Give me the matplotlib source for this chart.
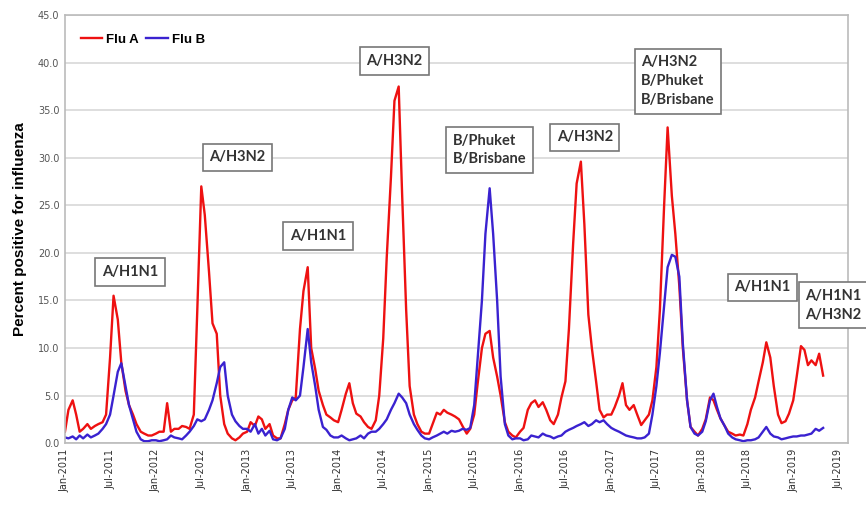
import matplotlib
matplotlib.use("Agg")
import matplotlib.pyplot as plt
import matplotlib.dates as mdates
import pandas as pd

# semi-monthly readings (1st and 15th), Jan 2011 .. May 2019
flu_a_2011 = [1.2, 3.5, 4.5, 3.0, 1.2, 1.5, 2.0, 1.5, 1.8, 2.0, 2.2, 3.0, 9.0, 15.5, 13.0, 8.5, 5.5, 4.0, 3.0, 2.0, 1.2, 1.0, 0.8, 0.8]
flu_a_2012 = [1.0, 1.2, 1.2, 4.2, 1.2, 1.5, 1.5, 1.8, 1.7, 1.5, 3.0, 14.0, 27.0, 24.0, 18.0, 12.6, 11.5, 5.0, 2.0, 1.0, 0.5, 0.3, 0.6, 1.0]
flu_a_2013 = [1.2, 2.2, 1.8, 2.8, 2.5, 1.5, 2.0, 0.8, 0.5, 0.5, 2.0, 3.5, 4.5, 4.8, 12.0, 16.0, 18.5, 10.0, 7.8, 5.5, 4.0, 3.0, 2.7, 2.4]
flu_a_2014 = [2.2, 3.5, 5.2, 6.3, 4.2, 3.1, 2.8, 2.2, 1.7, 1.5, 2.4, 5.0, 11.0, 19.5, 28.0, 36.0, 37.5, 26.0, 14.0, 6.0, 3.0, 2.0, 1.2, 1.0]
flu_a_2015 = [1.0, 2.0, 3.2, 3.0, 3.5, 3.2, 3.0, 2.8, 2.5, 1.8, 1.0, 1.5, 3.0, 6.3, 10.0, 11.5, 11.8, 9.0, 7.0, 5.0, 2.2, 1.2, 0.8, 0.6]
flu_a_2016 = [1.2, 1.6, 3.5, 4.2, 4.5, 3.8, 4.3, 3.5, 2.4, 2.0, 3.0, 4.8, 6.5, 12.0, 21.0, 27.3, 29.6, 23.0, 13.5, 10.0, 6.5, 3.5, 2.7, 3.0]
flu_a_2017 = [3.0, 3.8, 5.0, 6.3, 4.0, 3.5, 4.0, 3.0, 1.9, 2.4, 3.0, 4.5, 8.0, 14.0, 25.0, 33.2, 26.0, 22.0, 16.5, 10.0, 4.5, 1.7, 1.2, 0.8]
flu_a_2018 = [1.5, 2.5, 4.8, 4.5, 3.5, 2.6, 1.8, 1.2, 1.0, 0.8, 0.9, 0.8, 2.0, 3.5, 4.8, 6.5, 8.5, 10.6, 9.0, 6.0, 3.0, 2.1, 2.3, 3.1]
flu_a_2019 = [4.5, 7.0, 10.2, 9.8, 8.2, 8.7, 8.2, 9.4, 7.1]

flu_b_2011 = [0.6, 0.5, 0.7, 0.4, 0.8, 0.5, 0.9, 0.6, 0.8, 1.0, 1.5, 2.0, 3.0, 5.0, 7.5, 8.4, 6.0, 4.0, 2.5, 1.2, 0.4, 0.2, 0.2, 0.3]
flu_b_2012 = [0.3, 0.2, 0.3, 0.4, 0.8, 0.6, 0.5, 0.4, 0.8, 1.2, 1.8, 2.5, 2.3, 2.5, 3.5, 4.5, 6.3, 8.0, 8.5, 5.0, 3.0, 2.3, 1.8, 1.5]
flu_b_2013 = [1.5, 1.2, 2.0, 1.0, 1.5, 0.8, 1.3, 0.4, 0.3, 0.5, 1.5, 3.5, 4.8, 4.5, 5.0, 8.0, 12.0, 8.5, 6.0, 3.5, 1.7, 1.4, 0.8, 0.6]
flu_b_2014 = [0.6, 0.8, 0.5, 0.3, 0.4, 0.5, 0.8, 0.5, 1.0, 1.2, 1.2, 1.5, 2.0, 2.5, 3.5, 4.2, 5.2, 4.8, 4.2, 3.0, 2.0, 1.4, 0.8, 0.5]
flu_b_2015 = [0.4, 0.6, 0.8, 1.0, 1.2, 1.0, 1.3, 1.2, 1.3, 1.5, 1.4, 1.6, 4.0, 9.0, 15.0, 22.0, 26.8, 22.0, 15.0, 7.0, 2.0, 0.8, 0.4, 0.5]
flu_b_2016 = [0.5, 0.3, 0.4, 0.8, 0.7, 0.6, 1.0, 0.8, 0.7, 0.5, 0.7, 0.8, 1.2, 1.4, 1.6, 1.8, 2.0, 2.2, 1.8, 2.0, 2.4, 2.2, 2.4, 2.0]
flu_b_2017 = [1.6, 1.4, 1.2, 1.0, 0.8, 0.7, 0.6, 0.5, 0.5, 0.6, 1.0, 3.0, 6.0, 9.5, 14.5, 18.5, 19.8, 19.6, 17.5, 10.5, 4.5, 1.7, 1.0, 0.8]
flu_b_2018 = [1.2, 2.3, 4.5, 5.2, 3.8, 2.6, 1.8, 1.0, 0.6, 0.4, 0.3, 0.2, 0.3, 0.3, 0.4, 0.6, 1.2, 1.7, 1.0, 0.7, 0.6, 0.4, 0.5, 0.6]
flu_b_2019 = [0.7, 0.7, 0.8, 0.8, 0.9, 1.0, 1.5, 1.3, 1.6]

flu_a = (flu_a_2011 + flu_a_2012 + flu_a_2013 + flu_a_2014 + flu_a_2015
         + flu_a_2016 + flu_a_2017 + flu_a_2018 + flu_a_2019)
flu_b = (flu_b_2011 + flu_b_2012 + flu_b_2013 + flu_b_2014 + flu_b_2015
         + flu_b_2016 + flu_b_2017 + flu_b_2018 + flu_b_2019)
dates = pd.date_range("2011-01-01", periods=len(flu_a), freq="SMS")

# strain labels: (text, x, y) in axes fraction
labels = [("A/H1N1", 0.083, 0.400),
          ("A/H3N2", 0.220, 0.668),
          ("A/H1N1", 0.323, 0.484),
          ("A/H3N2", 0.421, 0.893),
          ("B/Phuket\nB/Brisbane", 0.542, 0.685),
          ("A/H3N2", 0.664, 0.715),
          ("A/H3N2\nB/Phuket\nB/Brisbane", 0.783, 0.846),
          ("A/H1N1", 0.891, 0.364)]

fig = plt.figure(figsize=(8.66, 5.07), dpi=100)
ax = fig.add_axes([0.075, 0.126, 0.904, 0.844])

ax.plot(dates, flu_a, color="#ee1111", lw=1.7, label="Flu A")
ax.plot(dates, flu_b, color="#3a22d0", lw=1.7, label="Flu B")

ax.set_ylim(0, 45)
ax.set_yticks(range(0, 46, 5))
ax.set_yticklabels(["%.1f" % v for v in range(0, 46, 5)], fontsize=7, color="#555555")
ax.set_xlim(pd.Timestamp("2011-01-01"), pd.Timestamp("2019-08-08"))
ax.xaxis.set_major_locator(mdates.MonthLocator(bymonth=[1, 7]))
ax.xaxis.set_major_formatter(mdates.DateFormatter("%b-%Y"))
plt.setp(ax.get_xticklabels(), rotation=90, fontsize=7, color="#333333")
ax.tick_params(length=0, pad=4)
ax.grid(axis="y", color="#d8d8d8", lw=1.2)
ax.set_axisbelow(True)
for s in ax.spines.values():
    s.set_color("#bbbbbb")
    s.set_linewidth(1.2)

ax.set_ylabel("Percent positive for influenza", fontsize=11, fontweight="bold",
              family="Liberation Sans", labelpad=8)

ax.legend(loc="upper left", ncol=2, frameon=False, handlelength=1.6,
          handletextpad=0.3, columnspacing=0.6, bbox_to_anchor=(0.005, 0.985),
          prop={"family": "Liberation Sans", "weight": "bold", "size": 9.5})

box = dict(boxstyle="square,pad=0.45", fc="white", ec="#777777", lw=1.2)
for txt, x, y in labels:
    ax.text(x, y, txt, transform=ax.transAxes, ha="center", va="center",
            multialignment="left", fontsize=10.5, fontweight="bold",
            family="Lato", color="#333333", bbox=box, linespacing=1.45)
# last box runs off the right edge, as in the original
ax.text(0.946, 0.322, "A/H1N1\nA/H3N2", transform=ax.transAxes, ha="left",
        va="center", fontsize=10.5, fontweight="bold", family="Lato",
        color="#333333", bbox=box, linespacing=1.45, clip_on=False)

fig.savefig("out.png", dpi=100)
